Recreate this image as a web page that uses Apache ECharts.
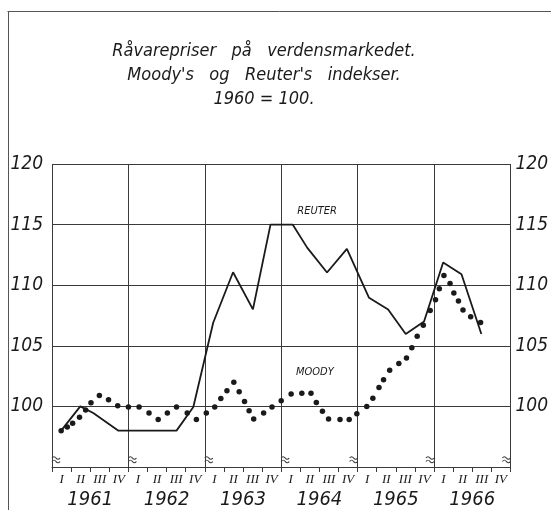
<!DOCTYPE html>
<html>
<head>
<meta charset="utf-8">
<script src="https://cdn.jsdelivr.net/npm/echarts@6/dist/echarts.min.js"></script>
<style>
  html, body { margin: 0; padding: 0; background: #fff; }
  #chart { width: 551px; height: 510px; }
</style>
</head>
<body>
<div id="chart"></div>
<script>
// Reuter index, [year, value]
var reuter = [
  [1961.12, 98.0], [1961.37, 100.0], [1961.54, 99.45], [1961.87, 98.0],
  [1962.63, 98.0], [1962.85, 99.95], [1963.11, 106.9], [1963.37, 111.07],
  [1963.63, 108.0], [1963.86, 115.0], [1964.15, 115.0], [1964.34, 113.1],
  [1964.60, 111.05], [1964.86, 113.0], [1965.15, 108.96], [1965.40, 108.0],
  [1965.63, 105.97], [1965.87, 107.0], [1966.12, 111.87], [1966.36, 110.9],
  [1966.62, 105.97]
];

// Moody index, [year, value]
var moody = [
  [1961.12, 98.0], [1961.20, 98.3], [1961.27, 98.6], [1961.36, 99.1],
  [1961.44, 99.7], [1961.51, 100.3], [1961.62, 100.9], [1961.74, 100.55],
  [1961.86, 100.05], [1962.00, 99.95], [1962.14, 99.95], [1962.27, 99.46],
  [1962.39, 98.92], [1962.51, 99.46], [1962.63, 99.95], [1962.77, 99.46],
  [1962.89, 98.92], [1963.02, 99.45], [1963.13, 99.95], [1963.21, 100.65],
  [1963.29, 101.3], [1963.38, 102.0], [1963.45, 101.2], [1963.52, 100.4],
  [1963.58, 99.65], [1963.64, 98.97], [1963.77, 99.45], [1963.88, 99.95],
  [1964.00, 100.46], [1964.13, 101.03], [1964.27, 101.08], [1964.39, 101.08],
  [1964.46, 100.33], [1964.54, 99.6], [1964.62, 98.97], [1964.77, 98.92],
  [1964.89, 98.92], [1964.99, 99.4], [1965.12, 100.0], [1965.20, 100.68],
  [1965.28, 101.55], [1965.34, 102.2], [1965.42, 102.99], [1965.54, 103.53],
  [1965.64, 104.0], [1965.71, 104.83], [1965.78, 105.78], [1965.86, 106.7],
  [1965.95, 107.92], [1966.02, 108.8], [1966.07, 109.7], [1966.13, 110.8],
  [1966.21, 110.15], [1966.26, 109.36], [1966.32, 108.69], [1966.38, 107.95],
  [1966.48, 107.39], [1966.61, 106.92]
];

var years = ['1961', '1962', '1963', '1964', '1965', '1966'];
var quarterNames = ['I', 'II', 'III', 'IV'];
var quarters = [];
for (var i = 0; i < years.length; i++) {
  for (var q = 0; q < 4; q++) quarters.push(years[i] + '-' + quarterNames[q]);
}
var yTicks = [100, 105, 110, 115, 120];
// axis-break marks at the foot of each year line
var breakYears = [1961, 1962, 1963, 1964, 1965, 1966, 1967];
var breakLevel = 95.6;

var seriesLabels = [
  { name: 'REUTER', coord: [1964.47, 116.1] },
  { name: 'MOODY', coord: [1964.44, 102.85] }
];

var ink = '#1a1a1a';
var gridInk = '#3a3a3a';
var italicFont = "'Liberation Sans Narrow', 'DejaVu Sans Condensed', 'Liberation Sans', sans-serif";

var chart = echarts.init(document.getElementById('chart'));

var breakData = breakYears.map(function (yr) {
  return { value: [yr, breakLevel], symbolOffset: [yr < 1965 ? 4 : -4, 0] };
});

var yAxisCommon = {
  type: 'value',
  min: 95,
  max: 120,
  interval: 5,
  axisLine: { show: false },
  axisTick: { show: false },
  axisLabel: {
    color: ink,
    fontSize: 19,
    fontStyle: 'italic',
    fontFamily: italicFont,
    formatter: function (v) { return yTicks.indexOf(v) >= 0 ? String(v) : ''; }
  }
};

var markLabel = {
  show: true, position: 'inside', color: ink,
  fontSize: 11, fontStyle: 'italic', fontFamily: italicFont,
  formatter: '{b}'
};

var option = {
  animation: false,
  backgroundColor: '#fff',
  graphic: [
    { type: 'line', shape: { x1: 7.5, y1: 11.5, x2: 551, y2: 11.5 }, style: { stroke: '#555', lineWidth: 1 } },
    { type: 'line', shape: { x1: 8.5, y1: 11.5, x2: 8.5, y2: 510 }, style: { stroke: '#555', lineWidth: 1 } },
    {
      type: 'text', x: 264, y: 39,
      style: {
        text: 'Råvarepriser   på   verdensmarkedet.\nMoody\'s   og   Reuter\'s   indekser.\n1960 = 100.',
        align: 'center',
        fill: ink,
        font: 'italic 18px ' + italicFont,
        lineHeight: 24
      }
    }
  ],
  grid: { left: 52, right: 39, top: 164, bottom: 38 },
  xAxis: [
    {
      type: 'value',
      min: 1961,
      max: 1967,
      interval: 1,
      axisLine: { show: false },
      axisTick: { show: false },
      axisLabel: { show: false },
      splitLine: { show: true, lineStyle: { color: gridInk, width: 1 } }
    },
    {
      type: 'category',
      data: quarters,
      position: 'bottom',
      boundaryGap: true,
      axisLine: { show: true, lineStyle: { color: gridInk, width: 1 } },
      axisTick: { show: true, length: 5, lineStyle: { color: gridInk } },
      axisLabel: {
        interval: 0,
        margin: 6,
        color: ink,
        fontSize: 13,
        fontStyle: 'italic',
        fontFamily: "'Liberation Serif', 'DejaVu Serif', serif",
        formatter: function (v) { return v.split('-')[1]; }
      },
      splitLine: { show: false }
    },
    {
      type: 'category',
      data: years,
      position: 'bottom',
      offset: 19,
      axisLine: { show: false },
      axisTick: { show: false },
      axisLabel: {
        interval: 0,
        margin: 4,
        color: ink,
        fontSize: 20,
        fontStyle: 'italic',
        fontFamily: italicFont
      },
      splitLine: { show: false }
    }
  ],
  yAxis: [
    Object.assign({}, yAxisCommon, {
      position: 'left',
      splitLine: { show: true, lineStyle: { color: gridInk, width: 1 } },
      axisLabel: Object.assign({}, yAxisCommon.axisLabel, { margin: 9 })
    }),
    Object.assign({}, yAxisCommon, {
      position: 'right',
      splitLine: { show: false },
      axisLabel: Object.assign({}, yAxisCommon.axisLabel, { margin: 5 })
    })
  ],
  series: [
    {
      name: 'Reuter',
      type: 'line',
      xAxisIndex: 0,
      yAxisIndex: 0,
      data: reuter,
      symbol: 'none',
      lineStyle: { color: ink, width: 1.8 },
      markPoint: {
        symbol: 'circle',
        symbolSize: 0,
        label: markLabel,
        data: [{ name: seriesLabels[0].name, coord: seriesLabels[0].coord }]
      }
    },
    {
      name: 'Moody',
      type: 'scatter',
      xAxisIndex: 0,
      yAxisIndex: 0,
      data: moody,
      symbol: 'circle',
      symbolSize: 5.5,
      itemStyle: { color: ink, opacity: 1 },
      markPoint: {
        symbol: 'circle',
        symbolSize: 0,
        label: markLabel,
        data: [{ name: seriesLabels[1].name, coord: seriesLabels[1].coord }]
      }
    },
    {
      name: 'breaks',
      type: 'scatter',
      xAxisIndex: 0,
      yAxisIndex: 0,
      data: breakData,
      silent: true,
      symbol: 'path://M0,3 C2,0 4,0 6,3 C8,6 10,6 12,3 M0,9 C2,6 4,6 6,9 C8,12 10,12 12,9',
      symbolSize: [8, 6],
      itemStyle: { color: 'transparent', borderColor: gridInk, borderWidth: 1, opacity: 1 }
    }
  ]
};

chart.setOption(option);
</script>
</body>
</html>
